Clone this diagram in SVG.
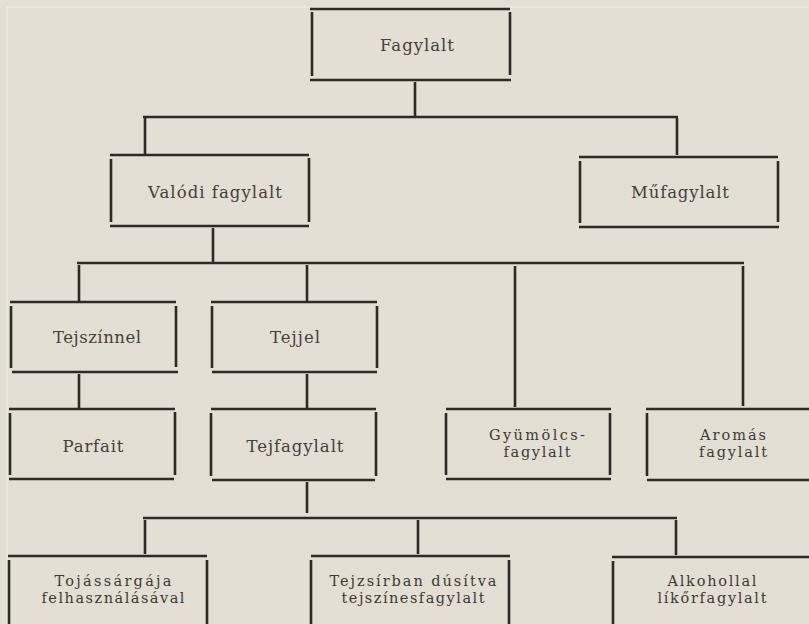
<svg xmlns="http://www.w3.org/2000/svg" width="809" height="624" viewBox="0 0 809 624">
<style>
.bg{fill:#e3dfd4}
.edge{stroke:#f1eee6;stroke-width:1.2;fill:none}
.b line,.c line{stroke:#2e2a25;stroke-width:2.6}
.t{font-family:"DejaVu Serif","Liberation Serif",serif;font-size:16.5px;fill:#45403b;text-anchor:middle}
.t2{font-family:"DejaVu Serif","Liberation Serif",serif;font-size:14.5px;fill:#3f3a35;text-anchor:middle}
</style>
<rect class="bg" x="0" y="0" width="809" height="624"/>
<path class="edge" d="M7,624 V7 H809"/>

<g class="c" id="connectors">
  <line x1="415" y1="82" x2="415" y2="116"/>
  <line x1="143" y1="117" x2="678" y2="117"/>
  <line x1="145" y1="118" x2="145" y2="154"/>
  <line x1="677" y1="118" x2="677" y2="155"/>

  <line x1="213" y1="228" x2="213" y2="262"/>
  <line x1="77" y1="263" x2="744" y2="263"/>
  <line x1="79" y1="265" x2="79" y2="301"/>
  <line x1="307" y1="265" x2="307" y2="301"/>
  <line x1="515" y1="266" x2="515" y2="407"/>
  <line x1="743" y1="266" x2="743" y2="406"/>

  <line x1="79" y1="374" x2="79" y2="408"/>
  <line x1="307" y1="374" x2="307" y2="408"/>

  <line x1="307" y1="482" x2="307" y2="513"/>
  <line x1="143" y1="518" x2="677" y2="518"/>
  <line x1="145" y1="520" x2="145" y2="554"/>
  <line x1="418" y1="520" x2="418" y2="554"/>
  <line x1="676" y1="520" x2="676" y2="555"/>
</g>

<g class="b" id="fagylalt">
  <line x1="310" y1="9" x2="510" y2="9"/>
  <line x1="312" y1="12" x2="312" y2="76"/>
  <line x1="510" y1="12" x2="510" y2="75"/>
  <line x1="310" y1="80" x2="511" y2="80"/>
  <text class="t" x="417" y="51" textLength="74" lengthAdjust="spacing">Fagylalt</text>
</g>

<g class="b" id="valodi">
  <line x1="110" y1="155" x2="309" y2="155"/>
  <line x1="111" y1="159" x2="111" y2="222"/>
  <line x1="309" y1="158" x2="309" y2="222"/>
  <line x1="110" y1="226" x2="309" y2="226"/>
  <text class="t" x="215" y="198" textLength="134" lengthAdjust="spacing">Valódi fagylalt</text>
</g>

<g class="b" id="mufagylalt">
  <line x1="579" y1="157" x2="778" y2="157"/>
  <line x1="580" y1="161" x2="580" y2="223"/>
  <line x1="778" y1="161" x2="778" y2="222"/>
  <line x1="579" y1="227" x2="779" y2="227"/>
  <text class="t" x="680" y="198" textLength="98" lengthAdjust="spacing">Műfagylalt</text>
</g>

<g class="b" id="tejszinnel">
  <line x1="10" y1="302" x2="176" y2="302"/>
  <line x1="11" y1="306" x2="11" y2="368"/>
  <line x1="176" y1="306" x2="176" y2="367"/>
  <line x1="12" y1="372" x2="178" y2="372"/>
  <text class="t" x="97" y="343" textLength="88" lengthAdjust="spacing">Tejszínnel</text>
</g>

<g class="b" id="tejjel">
  <line x1="211" y1="302" x2="377" y2="302"/>
  <line x1="212" y1="306" x2="212" y2="368"/>
  <line x1="377" y1="306" x2="377" y2="368"/>
  <line x1="212" y1="372" x2="377" y2="372"/>
  <text class="t" x="295" y="343" textLength="50" lengthAdjust="spacing">Tejjel</text>
</g>

<g class="b" id="parfait">
  <line x1="9" y1="409" x2="175" y2="409"/>
  <line x1="10" y1="413" x2="10" y2="475"/>
  <line x1="175" y1="412" x2="175" y2="475"/>
  <line x1="9" y1="479" x2="174" y2="479"/>
  <text class="t" x="93" y="452" textLength="61" lengthAdjust="spacing">Parfait</text>
</g>

<g class="b" id="tejfagylalt">
  <line x1="211" y1="409" x2="376" y2="409"/>
  <line x1="211" y1="413" x2="211" y2="476"/>
  <line x1="376" y1="412" x2="376" y2="476"/>
  <line x1="212" y1="480" x2="375" y2="480"/>
  <text class="t" x="295" y="452" textLength="97" lengthAdjust="spacing">Tejfagylalt</text>
</g>

<g class="b" id="gyumolcs">
  <line x1="446" y1="409" x2="611" y2="409"/>
  <line x1="446" y1="413" x2="446" y2="475"/>
  <line x1="610" y1="413" x2="610" y2="475"/>
  <line x1="446" y1="479" x2="611" y2="479"/>
  <text class="t2" x="537" y="440" textLength="96" lengthAdjust="spacing">Gyümölcs-</text>
  <text class="t2" x="537" y="457" textLength="67" lengthAdjust="spacing">fagylalt</text>
</g>

<g class="b" id="aromas">
  <line x1="646" y1="409" x2="812" y2="409"/>
  <line x1="647" y1="413" x2="647" y2="476"/>
  <line x1="647" y1="480" x2="812" y2="480"/>
  <text class="t2" x="733" y="440" textLength="66" lengthAdjust="spacing">Aromás</text>
  <text class="t2" x="733" y="457" textLength="68" lengthAdjust="spacing">fagylalt</text>
</g>

<g class="b" id="tojassargaja">
  <line x1="8" y1="556" x2="207" y2="556"/>
  <line x1="9" y1="560" x2="9" y2="624"/>
  <line x1="207" y1="560" x2="207" y2="624"/>
  <text class="t2" x="113" y="586" textLength="117" lengthAdjust="spacing">Tojássárgája</text>
  <text class="t2" x="113" y="603" textLength="143" lengthAdjust="spacing">felhasználásával</text>
</g>

<g class="b" id="tejzsirban">
  <line x1="311" y1="556" x2="510" y2="556"/>
  <line x1="311" y1="560" x2="311" y2="624"/>
  <line x1="509" y1="560" x2="509" y2="624"/>
  <text class="t2" x="413" y="586" textLength="167" lengthAdjust="spacing">Tejzsírban dúsítva</text>
  <text class="t2" x="413" y="603" textLength="143" lengthAdjust="spacing">tejszínesfagylalt</text>
</g>

<g class="b" id="alkohollal">
  <line x1="612" y1="557" x2="812" y2="557"/>
  <line x1="613" y1="561" x2="613" y2="624"/>
  <text class="t2" x="712" y="586" textLength="89" lengthAdjust="spacing">Alkohollal</text>
  <text class="t2" x="712" y="603" textLength="109" lengthAdjust="spacing">líkőrfagylalt</text>
</g>
</svg>
